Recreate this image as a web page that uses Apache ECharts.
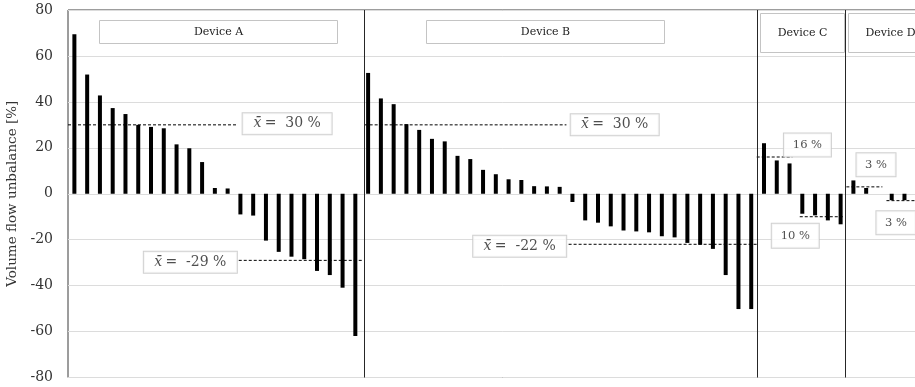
<!DOCTYPE html>
<html>
<head>
<meta charset="utf-8">
<script src="https://cdn.jsdelivr.net/npm/echarts@6/dist/echarts.min.js"></script>
<style>
  html, body { margin: 0; padding: 0; background: #fff; overflow: hidden; }
  /* the plot area continues a little past the right edge of the page */
  #chart { width: 940px; height: 387px; }
</style>
</head>
<body>
<div id="chart"></div>
<script>
// Volume flow unbalance per unit, sorted within each device [%]
const deviceNames = ['Device A', 'Device B', 'Device C', 'Device D'];
const deviceA = [69.4, 51.9, 42.8, 37.3, 34.7, 30.0, 29.1, 28.5, 21.5, 19.8, 13.8, 2.5, 2.3,
                 -9.0, -9.5, -20.4, -25.3, -27.4, -28.5, -33.6, -35.4, -40.9, -61.9];
const deviceB = [52.6, 41.5, 39.0, 30.3, 27.8, 23.9, 22.8, 16.5, 15.1, 10.4, 8.5, 6.3, 6.0, 3.3, 3.2, 3.0,
                 -3.6, -11.6, -12.6, -14.2, -16.0, -16.4, -16.8, -18.5, -19.0, -21.4, -22.2, -24.0, -35.4, -50.2, -50.2];
const deviceC = [22.0, 14.5, 13.2, -8.7, -9.4, -11.6, -13.3];
const deviceD = [5.8, 2.5, 0, -2.8, -2.8];

// Mean of over- and under-supplied units per device [%]
const meanPositive = [30, 30, 16, 3];
const meanNegative = [-29, -22, -10, -3];

const yTicks = [-80, -60, -40, -20, 0, 20, 40, 60, 80];

// ---- layout (x in unit-index coordinates, offsets in px) ----
const SLOTS_MAX = 67.5;
const separators = [22.73, 53.45, 60.4]; // vertical dividers between devices
const posSpans = [[-0.5, 12.79], [22.73, 38.53], [53.43, 56.22], [60.45, 63.27]];
const negSpans = [[12.87, 22.6], [38.7, 53.43], [56.8, 60.32], [63.59, 67.5]];
const posBox = [ {x: 16.66, dy: -1, w: 91, h: 23}, {x: 42.31, dy: 0, w: 90, h: 23},
                 {x: 57.4, dy: -12, w: 49, h: 25}, {x: 62.77, dy: -22, w: 41, h: 25} ];
const negBox = [ {x: 9.08, dy: 2, w: 95, h: 23}, {x: 34.87, dy: 2, w: 95, h: 23},
                 {x: 56.45, dy: 19, w: 49, h: 26}, {x: 64.33, dy: 22, w: 41, h: 25} ];
const titleBox = [ {x: 99, y: 20, w: 238, h: 23}, {x: 426, y: 20, w: 238, h: 23},
                   {x: 760, y: 13, w: 84, h: 39}, {x: 848, y: 13, w: 84, h: 39} ];

const serif = '"DejaVu Serif", "Liberation Serif", serif';

const groups = [deviceA, deviceB, deviceC, deviceD];
const barData = [];
groups.forEach(g => g.forEach(v => barData.push([barData.length, v])));

const series = [{
  type: 'bar',
  data: barData,
  barWidth: 4,
  itemStyle: { color: '#000' },
  markLine: {
    silent: true,
    symbol: 'none',
    label: { show: false },
    lineStyle: { color: '#262626', width: 1, type: 'solid' },
    data: separators.map(x => ({ xAxis: x }))
  },
  z: 3
}];

const dash = { color: '#000', width: 1, type: [3, 2] };
function meanLine(span, m) {
  return { type: 'line', data: [[span[0], m], [span[1], m]], symbol: 'none',
           lineStyle: dash, silent: true, z: 4, animation: false };
}
function meanText(i, m) {
  const n = i < 2 ? m : Math.abs(m);
  return i < 2 ? '{x|x̄} {t|=  ' + n + ' %}' : '{s|' + n + ' %}';
}
function meanBox(box, i, m) {
  return {
    type: 'scatter', data: [[box.x, m]], symbolSize: 0, silent: true, z: 6, animation: false,
    label: {
      show: true, position: 'inside', offset: [0, box.dy],
      formatter: () => meanText(i, m),
      width: box.w - 2, height: box.h - 2, lineHeight: box.h - 2,
      align: 'center', verticalAlign: 'middle',
      backgroundColor: '#fff', borderColor: '#c4c4c4', borderWidth: 1,
      rich: {
        x: { fontFamily: serif, fontStyle: 'italic', fontSize: 14, color: '#222' },
        t: { fontFamily: serif, fontSize: 14, color: '#222' },
        s: { fontFamily: serif, fontSize: 11.5, color: '#222' }
      }
    }
  };
}
meanPositive.forEach((m, i) => {
  series.push(meanLine(posSpans[i], m));
  series.push(meanBox(posBox[i], i, m));
});
meanNegative.forEach((m, i) => {
  series.push(meanLine(negSpans[i], m));
  series.push(meanBox(negBox[i], i, m));
});

const graphic = [];
deviceNames.forEach((name, i) => {
  const b = titleBox[i];
  graphic.push({
    type: 'group', left: b.x, top: b.y, z: 20,
    children: [
      { type: 'rect', shape: { x: 0, y: 0, width: b.w, height: b.h },
        style: { fill: '#fff', stroke: '#c4c4c4', lineWidth: 1 } },
      { type: 'text', x: b.w / 2, y: b.h / 2,
        style: { text: name, fontFamily: serif, fontSize: 11, fill: '#222',
                 align: 'center', verticalAlign: 'middle' } }
    ]
  });
});

const chart = echarts.init(document.getElementById('chart'), null, { renderer: 'canvas' });
chart.setOption({
  animation: false,
  backgroundColor: '#fff',
  grid: { left: 68, top: 10, width: 868.4, height: 367.5, show: true,
          outerBoundsMode: 'none', containLabel: false,
          borderColor: '#3a3a3a', borderWidth: 1, backgroundColor: 'transparent' },
  xAxis: {
    type: 'value', min: -0.5, max: SLOTS_MAX,
    axisLine: { show: false }, axisTick: { show: false },
    axisLabel: { show: false }, splitLine: { show: false }
  },
  yAxis: {
    type: 'value', min: yTicks[0], max: yTicks[yTicks.length - 1], interval: 20,
    name: 'Volume flow unbalance [%]', nameLocation: 'middle', nameGap: 49,
    nameMoveOverlap: false,
    nameTextStyle: { fontFamily: serif, fontSize: 13.5, color: '#333' },
    axisLine: { show: false }, axisTick: { show: false },
    axisLabel: { fontFamily: serif, fontSize: 14, color: '#333', margin: 15 },
    splitLine: { lineStyle: { color: '#dcdcdc', width: 1 } }
  },
  graphic: graphic,
  series: series
});
</script>
</body>
</html>
